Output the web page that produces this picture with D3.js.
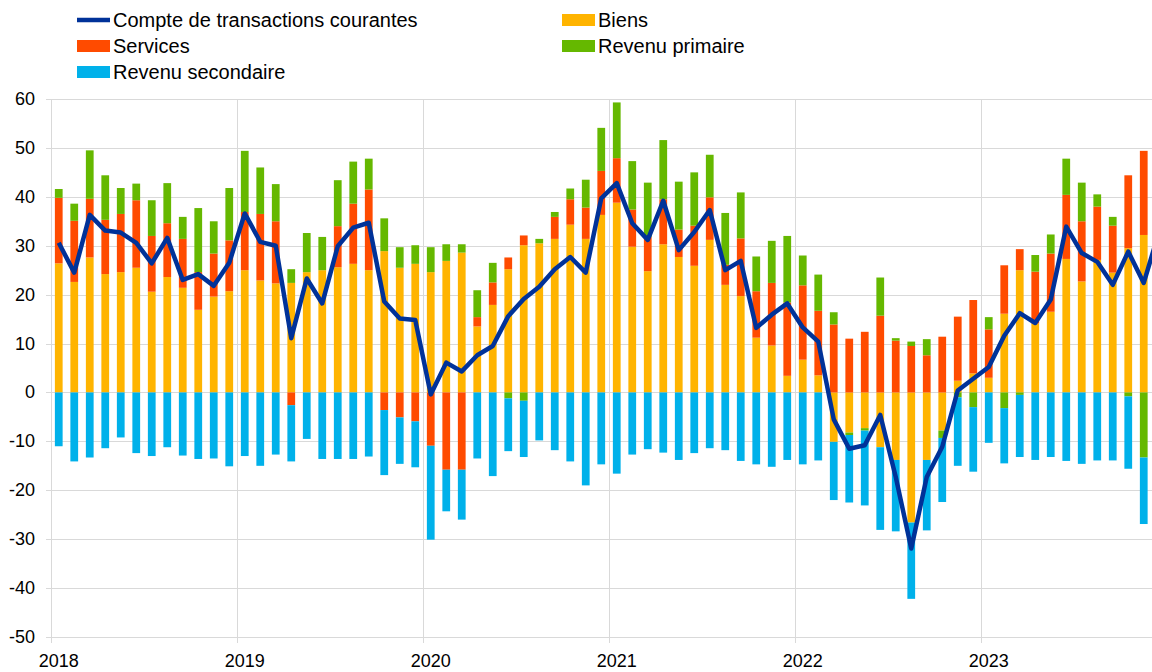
<!DOCTYPE html>
<html>
<head>
<meta charset="utf-8">
<script src="https://cdn.jsdelivr.net/npm/d3@7"></script>
<style>
body{margin:0;background:#fff;}
svg{display:block;font-family:"Liberation Sans",Arial,sans-serif;}
</style>
</head>
<body>
<div id="chart"></div>
<script>
// monthly data, Jan 2018 - Dec 2023 (EUR bn)
var years = [2018, 2019, 2020, 2021, 2022, 2023];
var months = years.flatMap(function(y){ return d3.range(1, 13).map(function(m){ return y + "-" + m; }); });

var biens = [
  26.4, 22.6, 27.6, 24.2, 24.6, 25.5, 20.6, 23.6, 21.4, 16.9, 19.6, 20.7,
  25.0, 22.9, 22.3, 22.4, 24.6, 25.0, 25.6, 26.3, 25.0, 28.9, 25.5, 26.3,
  24.6, 26.9, 28.6, 13.5, 17.9, 25.2, 30.1, 30.5, 31.4, 34.3, 31.4, 36.3,
  38.8, 29.8, 24.8, 30.3, 27.7, 25.9, 31.2, 22.0, 19.7, 11.2, 9.6, 3.4,
  6.7, 3.5, -10.1, -8.2, -7.3, -11.2, -13.8, -26.6, -13.8, -7.8, 2.4, 3.9,
  3.0, 16.1, 25.0, 14.1, 16.5, 27.3, 22.7, 27.1, 24.5, 29.5, 32.2, null
];
var services = [
  13.4, 12.5, 12.0, 11.1, 11.9, 13.8, 11.4, 11.0, 10.0, 7.7, 8.8, 10.4,
  11.9, 13.6, 12.7, -2.6, 0.0, 0.0, 8.4, 12.3, 16.5, -3.6, -5.1, -5.9,
  -10.9, -15.8, -15.8, 1.9, 4.6, 2.4, 2.0, 0.0, 4.5, 5.2, 6.4, 9.0,
  9.1, 7.6, 7.0, 9.2, 5.6, 8.2, 8.7, 4.1, 11.8, 9.5, 12.8, 15.0,
  15.2, 13.2, 13.9, 11.0, 12.4, 15.7, 10.6, 9.5, 7.6, 11.4, 13.1, 15.0,
  9.9, 9.9, 4.3, 10.6, 11.9, 13.1, 12.3, 10.9, 9.6, 14.9, 17.2, null
];
var revenuPrimaire = [
  1.8, 3.5, 9.9, 9.1, 5.3, 3.4, 7.3, 8.2, 4.5, 13.1, 6.6, 10.7,
  12.5, 9.5, 7.6, 2.8, 8.0, 6.8, 9.4, 8.6, 6.3, 6.7, 4.2, 3.8,
  5.1, 3.4, 1.7, 5.5, 4.0, -1.2, -1.7, 0.9, 1.0, 2.2, 5.7, 8.8,
  11.4, 9.9, 11.1, 12.1, 9.8, 10.9, 8.7, 10.6, 9.4, 7.1, 8.6, 13.6,
  6.1, 7.4, 2.5, -0.5, -0.5, 7.8, 0.5, 0.9, 3.3, -1.5, -1.0, -3.0,
  2.5, -3.2, -0.5, 3.4, 3.9, 7.4, 7.9, 2.5, 1.8, -0.8, -13.3, null
];
var revenuSecondaire = [
  -11.0, -14.1, -13.3, -11.4, -9.2, -12.4, -13.0, -11.2, -12.9, -13.6, -13.5, -15.1,
  -13.0, -15.0, -12.7, -11.5, -9.5, -13.6, -13.6, -13.6, -13.1, -13.3, -9.5, -9.4,
  -19.2, -8.5, -10.2, -13.5, -17.1, -10.8, -11.5, -9.8, -11.8, -14.1, -19.0, -14.7,
  -16.6, -12.7, -11.6, -12.3, -13.8, -12.4, -11.4, -11.8, -14.0, -14.7, -15.2, -13.8,
  -14.7, -13.9, -11.9, -13.8, -15.3, -16.9, -14.6, -15.6, -14.4, -13.1, -14.0, -13.2,
  -10.3, -11.3, -12.7, -13.8, -13.2, -14.0, -14.6, -13.9, -13.9, -14.8, -13.6, null
];
var compteCourant = [
  30.6, 24.5, 36.3, 33.1, 32.7, 30.6, 26.4, 31.6, 23.0, 24.2, 21.8, 26.5,
  36.6, 30.8, 30.0, 11.1, 23.3, 18.2, 29.9, 33.7, 34.7, 18.6, 15.1, 14.8,
  -0.4, 6.1, 4.3, 7.6, 9.5, 15.6, 19.1, 21.6, 25.2, 27.7, 24.5, 39.7,
  42.8, 34.6, 31.2, 39.2, 29.1, 32.8, 37.3, 25.0, 26.9, 13.2, 15.9, 18.2,
  13.3, 10.4, -5.5, -11.5, -10.8, -4.6, -17.3, -31.9, -17.3, -11.1, 0.4, 2.8,
  5.2, 11.6, 16.2, 14.2, 19.0, 33.9, 28.5, 26.7, 22.0, 28.8, 22.4, 33.0
];
var yTicks = [-50, -40, -30, -20, -10, 0, 10, 20, 30, 40, 50, 60];

(function(){
  var seriesKeys = ["Biens", "Services", "Revenu primaire", "Revenu secondaire"];
  var colors = {
    "Biens": "#FFB400",
    "Services": "#FF4B00",
    "Revenu primaire": "#65B800",
    "Revenu secondaire": "#00B1EA"
  };
  var lineColor = "#003299";

  var width = 1152, height = 672;
  var plotLeft = 51, plotTop = 99, plotBottom = 637;

  var table = months.map(function(m, i){
    return {
      month: m,
      "Biens": biens[i] == null ? 0 : biens[i],
      "Services": services[i] == null ? 0 : services[i],
      "Revenu primaire": revenuPrimaire[i] == null ? 0 : revenuPrimaire[i],
      "Revenu secondaire": revenuSecondaire[i] == null ? 0 : revenuSecondaire[i]
    };
  });

  var svg = d3.select("#chart")
    .append("svg")
    .attr("width", width)
    .attr("height", height);

  var x = d3.scaleBand()
    .domain(months)
    .range([plotLeft, plotLeft + months.length * 15.5])
    .paddingInner(0.5)
    .paddingOuter(0.25);

  var y = d3.scaleLinear()
    .domain([-50, 60])
    .range([plotBottom, plotTop]);

  // horizontal grid
  svg.append("g")
    .selectAll("line")
    .data(yTicks)
    .enter().append("line")
    .attr("x1", plotLeft - 5)
    .attr("x2", width)
    .attr("y1", function(d){ return Math.round(y(d)) + 0.5; })
    .attr("y2", function(d){ return Math.round(y(d)) + 0.5; })
    .attr("stroke", "#d9d9d9")
    .attr("stroke-width", 1);

  // vertical year lines (start of each January)
  svg.append("g")
    .selectAll("line")
    .data(years)
    .enter().append("line")
    .attr("x1", function(d){ return Math.round(x(d + "-1") - x.step() * 0.25) + 0.5; })
    .attr("x2", function(d){ return Math.round(x(d + "-1") - x.step() * 0.25) + 0.5; })
    .attr("y1", plotTop)
    .attr("y2", plotBottom + 6)
    .attr("stroke", "#d9d9d9")
    .attr("stroke-width", 1);

  // stacked bars
  var stack = d3.stack()
    .keys(seriesKeys)
    .offset(d3.stackOffsetDiverging);
  var layers = stack(table);

  svg.append("g")
    .selectAll("g")
    .data(layers)
    .enter().append("g")
    .attr("fill", function(d){ return colors[d.key]; })
    .selectAll("rect")
    .data(function(d){ return d.filter(function(p){ return p[1] - p[0] !== 0; }); })
    .enter().append("rect")
    .attr("x", function(d){ return x(d.data.month); })
    .attr("width", x.bandwidth())
    .attr("y", function(d){ return y(Math.max(d[0], d[1])); })
    .attr("height", function(d){ return Math.abs(y(d[0]) - y(d[1])); });

  // current account line
  var line = d3.line()
    .defined(function(d){ return d != null; })
    .x(function(d, i){ return x(months[i]) + x.bandwidth() / 2; })
    .y(function(d){ return y(d); });

  svg.append("path")
    .datum(compteCourant)
    .attr("d", line)
    .attr("fill", "none")
    .attr("stroke", lineColor)
    .attr("stroke-width", 4.5)
    .attr("stroke-linejoin", "round");

  // y labels
  svg.append("g")
    .selectAll("text")
    .data(yTicks)
    .enter().append("text")
    .attr("x", 35)
    .attr("y", function(d){ return y(d) + 6; })
    .attr("text-anchor", "end")
    .attr("font-size", 18)
    .attr("fill", "#000")
    .text(function(d){ return d; });

  // x labels
  svg.append("g")
    .selectAll("text")
    .data(years)
    .enter().append("text")
    .attr("x", function(d){ return x(d + "-1") + x.bandwidth() / 2; })
    .attr("y", 667)
    .attr("text-anchor", "middle")
    .attr("font-size", 18)
    .attr("fill", "#000")
    .text(function(d){ return d; });

  // legend
  var legend = [
    {name: "Compte de transactions courantes", type: "line", color: lineColor, x: 77, y: 20},
    {name: "Biens", type: "rect", color: colors["Biens"], x: 562, y: 20},
    {name: "Services", type: "rect", color: colors["Services"], x: 77, y: 46},
    {name: "Revenu primaire", type: "rect", color: colors["Revenu primaire"], x: 562, y: 46},
    {name: "Revenu secondaire", type: "rect", color: colors["Revenu secondaire"], x: 77, y: 72}
  ];
  var lg = svg.append("g")
    .selectAll("g")
    .data(legend)
    .enter().append("g");
  lg.filter(function(d){ return d.type === "line"; })
    .append("line")
    .attr("x1", function(d){ return d.x; })
    .attr("x2", function(d){ return d.x + 33; })
    .attr("y1", function(d){ return d.y; })
    .attr("y2", function(d){ return d.y; })
    .attr("stroke", function(d){ return d.color; })
    .attr("stroke-width", 4.5);
  lg.filter(function(d){ return d.type === "rect"; })
    .append("rect")
    .attr("x", function(d){ return d.x; })
    .attr("y", function(d){ return d.y - 6; })
    .attr("width", 33)
    .attr("height", 12)
    .attr("fill", function(d){ return d.color; });
  lg.append("text")
    .attr("x", function(d){ return d.x + 36; })
    .attr("y", function(d){ return d.y + 7; })
    .attr("font-size", 20)
    .attr("fill", "#000")
    .text(function(d){ return d.name; });
})();
</script>
</body>
</html>
